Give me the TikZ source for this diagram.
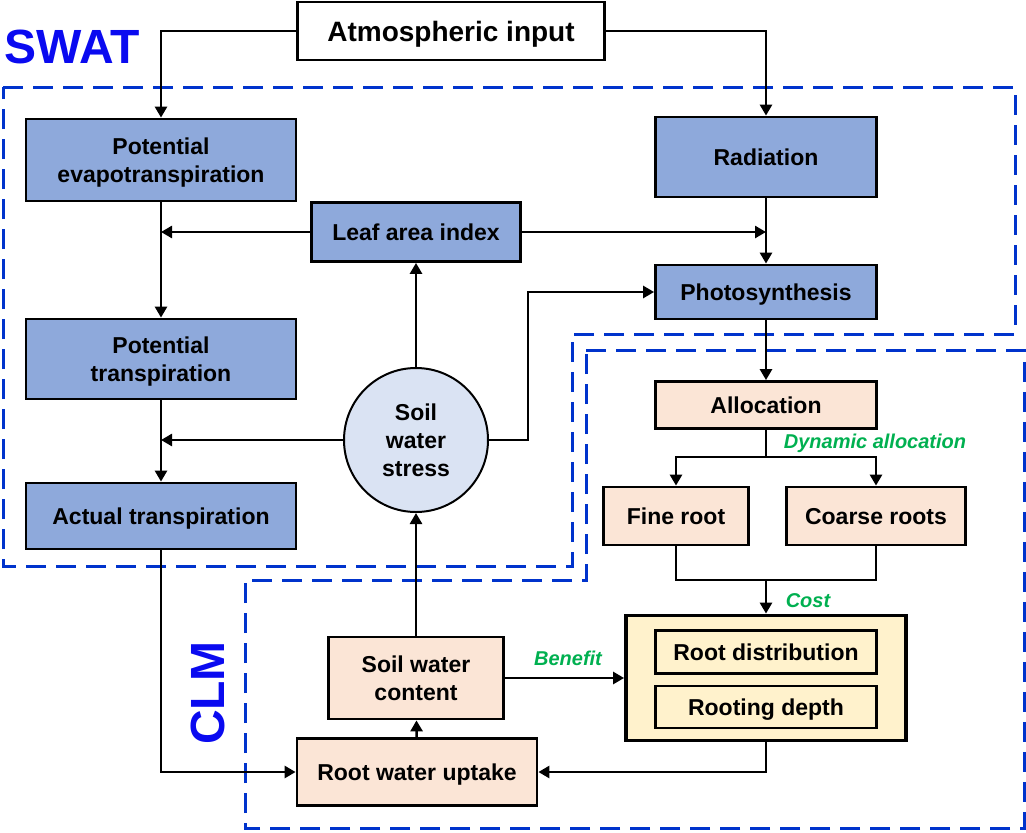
\documentclass[tikz,border=0pt]{standalone}
\usepackage{fontspec}
\setmainfont{Liberation Sans}
\usetikzlibrary{arrows.meta}

\definecolor{swatfill}{RGB}{142,169,219}
\definecolor{clmfill}{RGB}{251,229,214}
\definecolor{rootfill}{RGB}{255,242,204}
\definecolor{stressfill}{RGB}{218,227,243}
\definecolor{regionblue}{RGB}{0,51,204}
\definecolor{labelblue}{RGB}{10,10,240}
\definecolor{notegreen}{RGB}{0,176,80}

\begin{document}
\begin{tikzpicture}[x=1pt,y=-1pt,
			box/.style={draw,line width=2.8pt,align=center,inner sep=0pt,text depth=0pt,font=\fontsize{23}{28}\selectfont\bfseries},
			swat node/.style={box,fill=swatfill},
			clm node/.style={box,fill=clmfill},
			link/.style={line width=2.6pt},
			arrow link/.style={link,-{Triangle[length=11pt,width=12pt]}},
			note/.style={text=notegreen,font=\fontsize{20}{24}\selectfont\bfseries\itshape},
			region/.style={draw=regionblue,line width=3pt,dash pattern=on 20pt off 10pt},
			model label/.style={text=labelblue,font=\fontsize{48}{50}\selectfont\bfseries}
			]
			
			\useasboundingbox (0,0) rectangle (1026,833);
			
			% model regions
			\draw[region] (3,87) -- (1015,87) -- (1015,334) -- (572,334) -- (572,566) -- (3,566) -- cycle;
			\draw[region] (586,350) -- (1024,350) -- (1024,828) -- (245,828) -- (245,580) -- (586,580) -- cycle;
			\node[model label] (swat) at (72,47) {SWAT};
			\node[model label,rotate=90] (clm) at (208,693) {CLM};
			
			\node[box,fill=white,minimum width=307pt,minimum height=58pt,font=\fontsize{28}{32}\selectfont\bfseries] (atm) at (451,31) {Atmospheric input};
			
			% SWAT part
			\node[swat node,minimum width=270pt,minimum height=82pt] (pet) at (161,160) {Potential\\evapotranspiration};
			\node[swat node,minimum width=221pt,minimum height=80pt] (rad) at (766,157) {Radiation};
			\node[swat node,minimum width=209pt,minimum height=59pt] (lai) at (416,232) {Leaf area index};
			\node[swat node,minimum width=221pt,minimum height=54pt] (photo) at (766,292) {Photosynthesis};
			\node[swat node,minimum width=270pt,minimum height=80pt] (pt) at (161,359) {Potential\\transpiration};
			\node[swat node,minimum width=270pt,minimum height=66pt] (at) at (161,516) {Actual transpiration};
			\node[box,circle,fill=stressfill,line width=2pt,minimum size=144pt] (sws) at (416,440) {Soil\\water\\stress};
			
			% CLM part
			\node[clm node,minimum width=221pt,minimum height=47pt] (alloc) at (766,405) {Allocation};
			\node[clm node,minimum width=145pt,minimum height=58pt] (fine) at (676,516) {Fine root};
			\node[clm node,minimum width=179pt,minimum height=58pt] (coarse) at (876,516) {Coarse roots};
			\node[box,fill=rootfill,line width=3.8pt,minimum width=280pt,minimum height=125pt] (roots) at (766,678) {};
			\node[box,fill=rootfill,minimum width=221pt,minimum height=43pt] (rdist) at (766,652) {Root distribution};
			\node[box,fill=rootfill,minimum width=221pt,minimum height=42pt] (rdepth) at (766,707) {Rooting depth};
			\node[clm node,minimum width=175pt,minimum height=82pt] (swc) at (416,678) {Soil water\\content};
			\node[clm node,minimum width=240pt,minimum height=67pt] (rwu) at (417,772) {Root water uptake};
			
			\coordinate (split) at (766,457);
			\coordinate (join) at (766,580);
			
			\draw[arrow link] (atm.west) -| (pet.north);
			\draw[arrow link] (atm.east) -| (rad.north);
			\draw[arrow link] (pet) -- (pt);
			\draw[arrow link] (pt) -- (at);
			\draw[arrow link] (lai.west) -- (lai.west -| pet.south);
			\draw[arrow link] (lai.east) -- (lai.east -| rad.south);
			\draw[arrow link] (rad) -- (photo);
			\draw[arrow link] (sws) -- (lai);
			\draw[arrow link] (sws.west) -- (sws.west -| pt.south);
			\draw[arrow link] (sws.east) -- ++(39,0) |- (photo.west);
			\draw[arrow link] (photo) -- (alloc);
			\draw[link] (alloc.south) -- (split);
			\draw[arrow link] (split) -| (fine.north);
			\draw[arrow link] (split) -| (coarse.north);
			\draw[link] (fine.south) |- (join);
			\draw[link] (coarse.south) |- (join);
			\draw[arrow link] (join) -- (roots.north);
			\draw[arrow link] (at.south) |- (rwu.west);
			\draw[arrow link] (roots.south) |- (rwu.east);
			\draw[arrow link] (rwu) -- (swc);
			\draw[arrow link] (swc) -- (sws);
			\draw[arrow link] (swc) -- (roots);
			
			\node[note] (dyn) at (875,443) {Dynamic allocation};
			\node[note] (cost) at (808,601) {Cost};
			\node[note] (benefit) at (568,658) {Benefit};
			\end{tikzpicture}
\end{document}
